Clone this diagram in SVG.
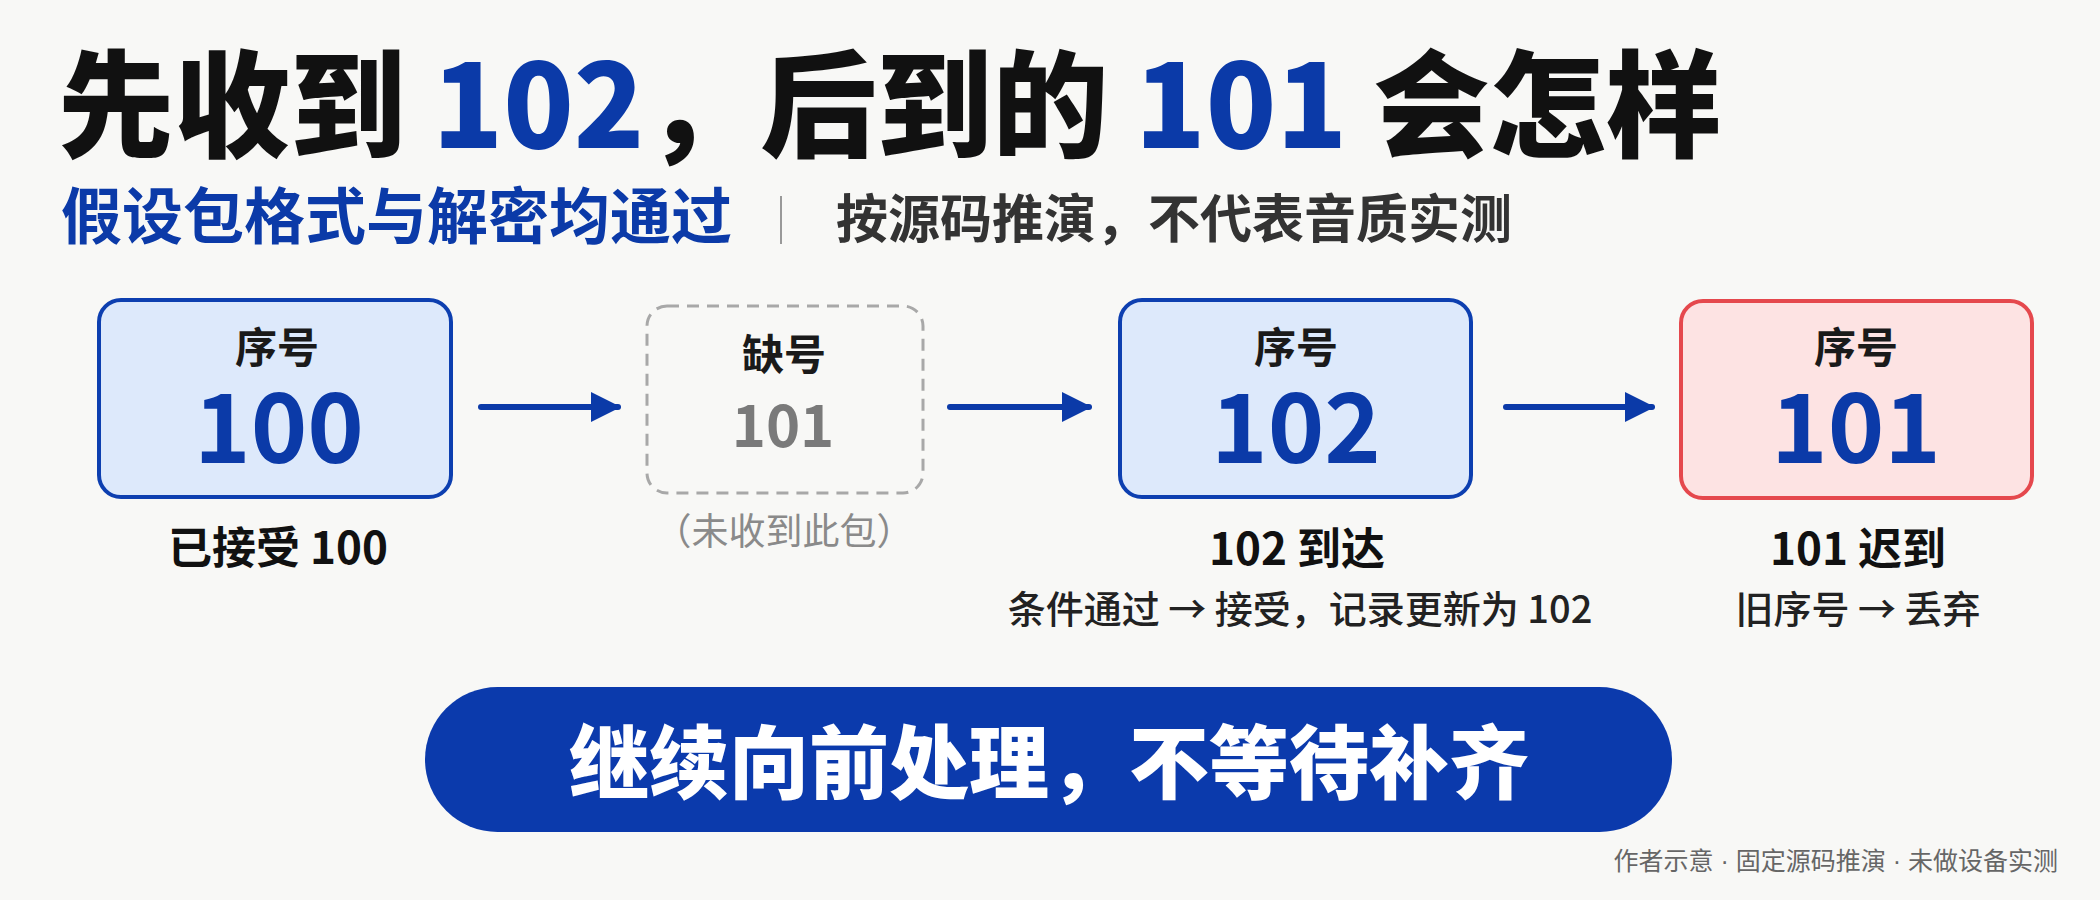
<svg xmlns="http://www.w3.org/2000/svg" width="2100" height="900" viewBox="0 0 2100 900">
<defs>
<style>
text{font-family:"Noto Sans CJK SC","Noto Sans",sans-serif;}
.title{font-size:116px;font-weight:900;fill:#111;}
.blue{fill:#0b3aa8;}
.sub1{font-size:61px;font-weight:700;fill:#0b3aa8;}
.sub2{font-size:52px;font-weight:700;fill:#333;}
.box{stroke-width:4;}
.bluebox{fill:#dde9fb;stroke:#0d3fb0;}
.redbox{fill:#fde3e3;stroke:#e5484d;}
.gapbox{fill:none;stroke:#a8a8a8;stroke-width:3;stroke-dasharray:12 8;}
.head{font-size:42px;font-weight:700;fill:#1a1a1a;text-anchor:middle;}
.num{font-size:96px;font-weight:700;fill:#0b3aa8;text-anchor:middle;}
.gnum{font-size:58px;font-weight:700;fill:#7a7a7a;text-anchor:middle;}
.lab{font-size:44px;font-weight:700;fill:#111;text-anchor:middle;}
.note{font-size:38px;font-weight:500;fill:#222;text-anchor:middle;}
.gnote{font-size:37px;font-weight:400;fill:#8a8a8a;text-anchor:middle;}
.conn{stroke:#0b3aa8;stroke-width:6;stroke-linecap:round;fill:none;}
.foot{font-size:25px;font-weight:400;fill:#666;text-anchor:end;}
.dot{font-family:"Liberation Sans",sans-serif;}
</style>
<marker id="ah" viewBox="0 0 10 10" refX="9" refY="5" markerWidth="5" markerHeight="6" markerUnits="strokeWidth" orient="auto">
<path d="M0,0 L10,5 L0,10 Z" fill="#0b3aa8"/>
</marker>
</defs>
<rect width="2100" height="900" fill="#f8f8f6"/>
<g id="title">
<text class="title" x="58" y="148">先收到 <tspan class="blue">102</tspan>，后到的 <tspan class="blue">101</tspan> 会怎样</text>
<text class="sub1" x="61" y="239">假设包格式与解密均通过</text>
<line x1="781" y1="196" x2="781" y2="244" stroke="#999" stroke-width="2"/>
<text class="sub2" x="836" y="238">按源码推演，不代表音质实测</text>
</g>
<g id="connectors">
<line class="conn" x1="481" y1="407" x2="618" y2="407" marker-end="url(#ah)"/>
<line class="conn" x1="950" y1="407" x2="1089" y2="407" marker-end="url(#ah)"/>
<line class="conn" x1="1506" y1="407" x2="1652" y2="407" marker-end="url(#ah)"/>
</g>
<g id="node-100">
<rect class="box bluebox" x="99" y="300" width="352" height="197" rx="22"/>
<text class="head" x="277" y="363">序号</text>
<text class="num" x="279" y="463">100</text>
<text class="lab" x="278" y="564">已接受 100</text>
</g>
<g id="node-101-missing">
<rect class="gapbox" x="647" y="306" width="276" height="187" rx="20"/>
<text class="head" x="784" y="370" font-size="40" fill="#333">缺号</text>
<text class="gnum" x="783" y="447">101</text>
<text class="gnote" x="784" y="545">（未收到此包）</text>
</g>
<g id="node-102">
<rect class="box bluebox" x="1120" y="300" width="351" height="197" rx="22"/>
<text class="head" x="1296" y="363">序号</text>
<text class="num" x="1296" y="463">102</text>
<text class="lab" x="1297" y="565">102 到达</text>
<text class="note" x="1300" y="623">条件通过 → 接受，记录更新为 102</text>
</g>
<g id="node-101-late">
<rect class="box redbox" x="1681" y="301" width="351" height="197" rx="22"/>
<text class="head" x="1856" y="363">序号</text>
<text class="num" x="1856" y="463">101</text>
<text class="lab" x="1858" y="565">101 迟到</text>
<text class="note" x="1858" y="623">旧序号 → 丢弃</text>
</g>
<g id="banner">
<rect x="425" y="687" width="1247" height="145" rx="72.5" fill="#0b3aac"/>
<text x="1049" y="792" font-size="80" font-weight="900" fill="#fff" text-anchor="middle">继续向前处理，不等待补齐</text>
</g>
<text class="foot" x="2058" y="870">作者示意<tspan class="dot"> · </tspan>固定源码推演<tspan class="dot"> · </tspan>未做设备实测</text>
</svg>
